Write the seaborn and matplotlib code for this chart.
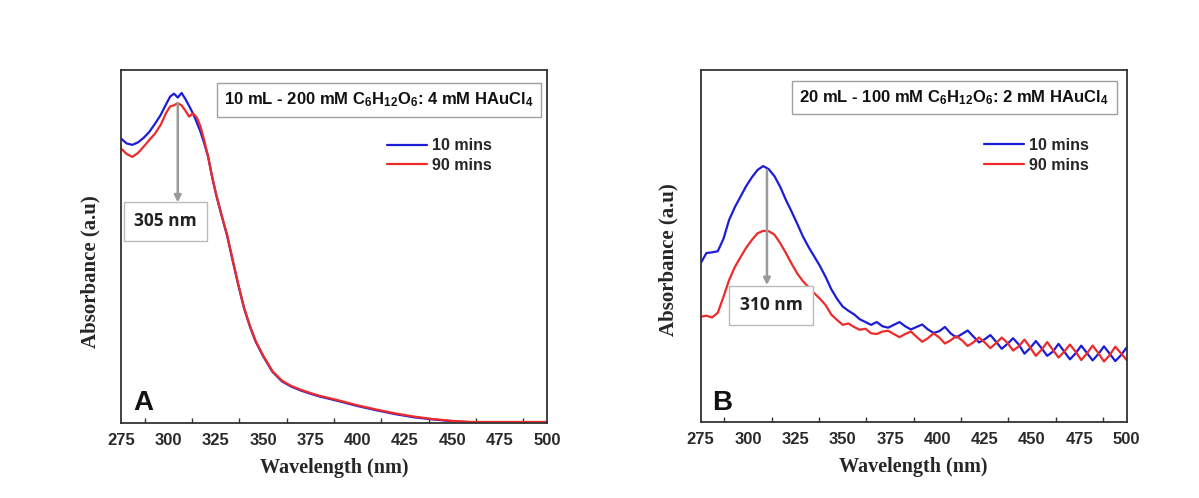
import matplotlib
matplotlib.use("Agg")
import matplotlib.pyplot as plt
import numpy as np
import pandas as pd
import seaborn as sns

# ---------------- data ----------------
wl_a = [275, 278, 281, 284, 287, 290, 293, 296, 299, 301, 303, 305, 307, 309, 311,
        313, 315, 317, 319, 321, 323, 325, 328, 331, 334, 337, 340, 343, 346, 350,
        355, 360, 365, 370, 375, 380, 390, 400, 410, 420, 430, 440, 450, 460, 470,
        480, 490, 500]
blue_a = [0.806, 0.792, 0.788, 0.795, 0.808, 0.825, 0.848, 0.873, 0.905, 0.925, 0.933,
          0.922, 0.935, 0.918, 0.898, 0.877, 0.852, 0.825, 0.792, 0.755, 0.700, 0.652,
          0.590, 0.532, 0.460, 0.390, 0.325, 0.275, 0.232, 0.190, 0.145, 0.118, 0.103,
          0.092, 0.083, 0.075, 0.062, 0.048, 0.036, 0.025, 0.016, 0.010, 0.005, 0.002,
          0.002, 0.002, 0.002, 0.002]
red_a = [0.778, 0.762, 0.754, 0.765, 0.783, 0.802, 0.820, 0.845, 0.880, 0.897, 0.900,
         0.906, 0.900, 0.885, 0.868, 0.877, 0.866, 0.840, 0.800, 0.755, 0.702, 0.654,
         0.592, 0.534, 0.462, 0.392, 0.327, 0.277, 0.234, 0.192, 0.147, 0.120, 0.105,
         0.094, 0.085, 0.077, 0.064, 0.050, 0.038, 0.027, 0.018, 0.011, 0.006, 0.003,
         0.003, 0.003, 0.003, 0.003]

wl_b = [275, 278, 281, 284, 287, 290, 293, 296, 299, 302, 305, 308, 311, 314, 317,
        320, 323, 326, 329, 332, 335, 338, 341, 344, 347, 350, 353, 356, 359, 362,
        365, 368, 371, 374, 377, 380, 383, 386, 389, 392, 395, 398, 401, 404, 407,
        410, 413, 416, 419, 422, 425, 428, 431, 434, 437, 440, 443, 446, 449, 452,
        455, 458, 461, 464, 467, 470, 473, 476, 479, 482, 485, 488, 491, 494, 497, 500]
blue_b = [0.451, 0.480, 0.482, 0.485, 0.520, 0.574, 0.610, 0.640, 0.670, 0.695, 0.716,
          0.727, 0.718, 0.698, 0.668, 0.631, 0.598, 0.563, 0.527, 0.497, 0.470, 0.443,
          0.412, 0.377, 0.350, 0.328, 0.316, 0.306, 0.292, 0.284, 0.276, 0.284, 0.272,
          0.268, 0.276, 0.284, 0.272, 0.263, 0.270, 0.277, 0.263, 0.253, 0.258, 0.270,
          0.252, 0.240, 0.250, 0.260, 0.243, 0.226, 0.235, 0.247, 0.228, 0.208, 0.222,
          0.238, 0.220, 0.194, 0.210, 0.230, 0.210, 0.188, 0.200, 0.222, 0.200, 0.178,
          0.195, 0.217, 0.196, 0.175, 0.193, 0.215, 0.194, 0.173, 0.190, 0.212]
red_b = [0.299, 0.302, 0.297, 0.310, 0.355, 0.403, 0.440, 0.468, 0.495, 0.517, 0.536,
         0.543, 0.542, 0.532, 0.508, 0.480, 0.450, 0.422, 0.400, 0.383, 0.366, 0.350,
         0.332, 0.305, 0.290, 0.276, 0.280, 0.270, 0.262, 0.265, 0.252, 0.250, 0.257,
         0.259, 0.250, 0.241, 0.250, 0.257, 0.242, 0.228, 0.238, 0.252, 0.240, 0.223,
         0.232, 0.244, 0.232, 0.216, 0.226, 0.240, 0.226, 0.210, 0.224, 0.240, 0.225,
         0.203, 0.215, 0.234, 0.212, 0.188, 0.205, 0.227, 0.205, 0.183, 0.200, 0.220,
         0.200, 0.176, 0.195, 0.217, 0.196, 0.172, 0.190, 0.214, 0.195, 0.176]

series_names = ["10 mins", "90 mins"]
x_ticks = [275, 300, 325, 350, 375, 400, 425, 450, 475, 500]
title_a = r"10 mL - 200 mM C$_6$H$_{12}$O$_6$: 4 mM HAuCl$_4$"
title_b = r"20 mL - 100 mM C$_6$H$_{12}$O$_6$: 2 mM HAuCl$_4$"
peak_a, peak_b = 305, 310

# ---------------- style ----------------
sns.set_style("white")
plt.rcParams["font.family"] = ["Liberation Sans", "DejaVu Sans"]
plt.rcParams["mathtext.fontset"] = "custom"
plt.rcParams["mathtext.rm"] = "Liberation Sans:bold"
plt.rcParams["mathtext.it"] = "Liberation Sans:bold"
plt.rcParams["mathtext.bf"] = "Liberation Sans:bold"

palette = {"10 mins": "#1c1cd8", "90 mins": "#ee2a2a"}
SPINE = "#333333"

fig = plt.figure(figsize=(11.99, 4.98), dpi=100)
axA = fig.add_axes([0.1009, 0.1506, 0.3553, 0.7088])
axB = fig.add_axes([0.5844, 0.1526, 0.3553, 0.7068])


def make_df(wl, b, r):
    return pd.DataFrame({
        "wl": list(wl) + list(wl),
        "abs": list(b) + list(r),
        "time": [series_names[0]] * len(wl) + [series_names[1]] * len(wl),
    })


def style_axes(ax, title, tx, ty, lx, ly, letter, lly):
    ax.set_xlim(275, 500)
    ax.set_ylim(0, 1)
    ax.set_xticks(x_ticks)
    ax.set_xticks([t + 12.5 for t in x_ticks[:-1]], minor=True)
    ax.set_yticks([])
    for s in ax.spines.values():
        s.set_color(SPINE)
        s.set_linewidth(1.3)
    ax.tick_params(axis="x", which="major", direction="inout", length=7, width=1.2,
                   color=SPINE, labelsize=12, pad=4, labelcolor="#2a2a2a")
    ax.tick_params(axis="x", which="minor", direction="in", length=3.5, width=1.0,
                   color=SPINE, bottom=True)
    for lab in ax.get_xticklabels():
        lab.set_fontweight("bold")
    ax.set_xlabel("Wavelength (nm)", family="Liberation Serif", fontweight="bold",
                  fontsize=14.5, labelpad=7)
    ax.set_ylabel("Absorbance (a.u)", family="Liberation Serif", fontweight="bold",
                  fontsize=15)
    ax.yaxis.set_label_coords(lx, ly)
    ax.text(tx, ty, title, transform=ax.transAxes, ha="center", va="center",
            fontsize=12, fontweight="bold", color="#111111",
            bbox=dict(boxstyle="square,pad=0.45", fc="white", ec="#a0a0a0", lw=1.0))
    ax.text(0.028, lly, letter, transform=ax.transAxes, ha="left", va="center",
            fontsize=20, fontweight="bold", color="#111111")


for ax, wl, b, r in [(axA, wl_a, blue_a, red_a), (axB, wl_b, blue_b, red_b)]:
    sns.lineplot(data=make_df(wl, b, r), x="wl", y="abs", hue="time",
                 palette=palette, estimator=None, ax=ax, linewidth=1.6)

style_axes(axA, title_a, 0.606, 0.915, -0.049, 0.43, "A", 0.057)
style_axes(axB, title_b, 0.595, 0.922, -0.053, 0.46, "B", 0.055)

sns.move_legend(axA, "upper left", bbox_to_anchor=(0.624, 0.807), frameon=False,
                title=None, borderaxespad=0, borderpad=0, handlelength=2.5,
                handletextpad=0.3, labelspacing=0.3,
                prop={"weight": "bold", "size": 11.5})
sns.move_legend(axB, "upper left", bbox_to_anchor=(0.665, 0.807), frameon=False,
                title=None, borderaxespad=0, borderpad=0, handlelength=2.5,
                handletextpad=0.3, labelspacing=0.3,
                prop={"weight": "bold", "size": 11.5})

# peak arrows and labels
arrow = dict(arrowstyle="-|>", color="#9a9a9a", lw=1.8, mutation_scale=10,
             shrinkA=0, shrinkB=0)
axA.annotate("", xy=(peak_a, 0.625), xytext=(peak_a, 0.906), arrowprops=arrow)
axA.text(298.6, 0.571, f"{peak_a} nm", ha="center", va="center", fontsize=12.5,
         fontweight="bold", family="Open Sans", color="#222222",
         bbox=dict(boxstyle="square,pad=0.6", fc="white", ec="#bbbbbb", lw=1.0))
axB.annotate("", xy=(peak_b, 0.389), xytext=(peak_b, 0.716), arrowprops=arrow)
axB.text(312.1, 0.332, f"{peak_b} nm", ha="center", va="center", fontsize=12.5,
         fontweight="bold", family="Open Sans", color="#222222",
         bbox=dict(boxstyle="square,pad=0.6", fc="white", ec="#bbbbbb", lw=1.0))

fig.savefig("out.png", dpi=100, facecolor="white")
